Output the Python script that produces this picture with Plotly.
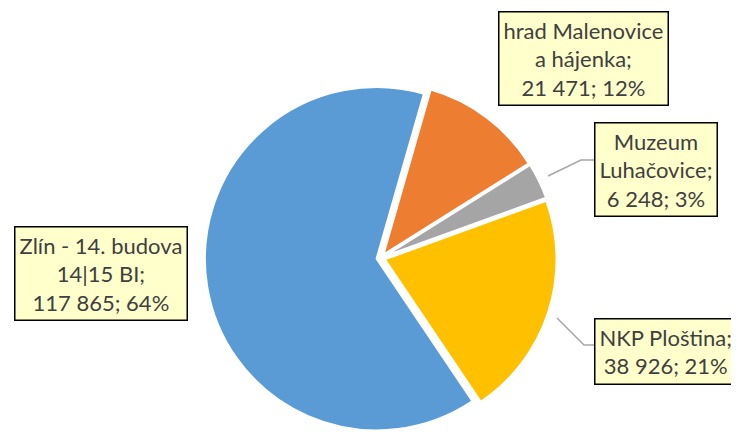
import plotly.graph_objects as go

# data
labels = ["hrad Malenovice<br>a hájenka", "Muzeum<br>Luhačovice", "NKP Ploština", "Zlín - 14. budova<br>14|15 BI"]
values = [21471, 6248, 38926, 117865]
colors = ["#ED7D31", "#A5A5A5", "#FFC000", "#5B9BD5"]

# the page body keeps its default 8px margin, so the figure is drawn 8px in
OFF = 8
W, H = 739 - OFF, 434 - OFF


def px(x, y):
    # window pixel position -> paper coords
    return (x - OFF) / W, 1 - (y - OFF) / H


total = sum(values)

fig = go.Figure()
fig.add_trace(go.Pie(
    labels=labels,
    values=values,
    sort=False,
    direction="clockwise",
    rotation=16,
    pull=0.025,
    textinfo="none",
    hoverinfo="label+value+percent",
    marker=dict(colors=colors, line=dict(color="white", width=2)),
    domain=dict(x=[0.26, 0.76], y=[0.0, 0.826]),
    showlegend=False,
))

# label boxes: (x, y, xanchor) in window pixels
box_pos = [(583, 58, "center"), (594, 170, "left"), (594, 351, "left"), (101, 273, "center")]
for lab, val, (bx, by, anc) in zip(labels, values, box_pos):
    num = f"{val:,}".replace(",", "\u00a0")
    pct = round(val / total * 100)
    x, y = px(bx, by)
    fig.add_annotation(
        x=x, y=y, xref="paper", yref="paper",
        text=f"{lab};<br>{num}; {pct}%",
        showarrow=False,
        font=dict(family="Lato", size=22, color="#404040"),
        bgcolor="#FFFFCC", bordercolor="#000000", borderwidth=1.5, borderpad=4,
        align="center", xanchor=anc, yanchor="middle",
    )

# leader lines
leaders = [[(548, 176), (581, 160), (594, 160)],
           [(557, 318), (584, 345), (594, 345)]]
for pts in leaders:
    path = "M " + " L ".join(f"{px(a, b)[0]},{px(a, b)[1]}" for a, b in pts)
    fig.add_shape(type="path", path=path, xref="paper", yref="paper",
                  line=dict(color="#A6A6A6", width=1.5))

fig.update_layout(
    width=W, height=H,
    margin=dict(l=0, r=0, t=0, b=0),
    paper_bgcolor="white",
    plot_bgcolor="white",
)

fig.write_html("out.html")
